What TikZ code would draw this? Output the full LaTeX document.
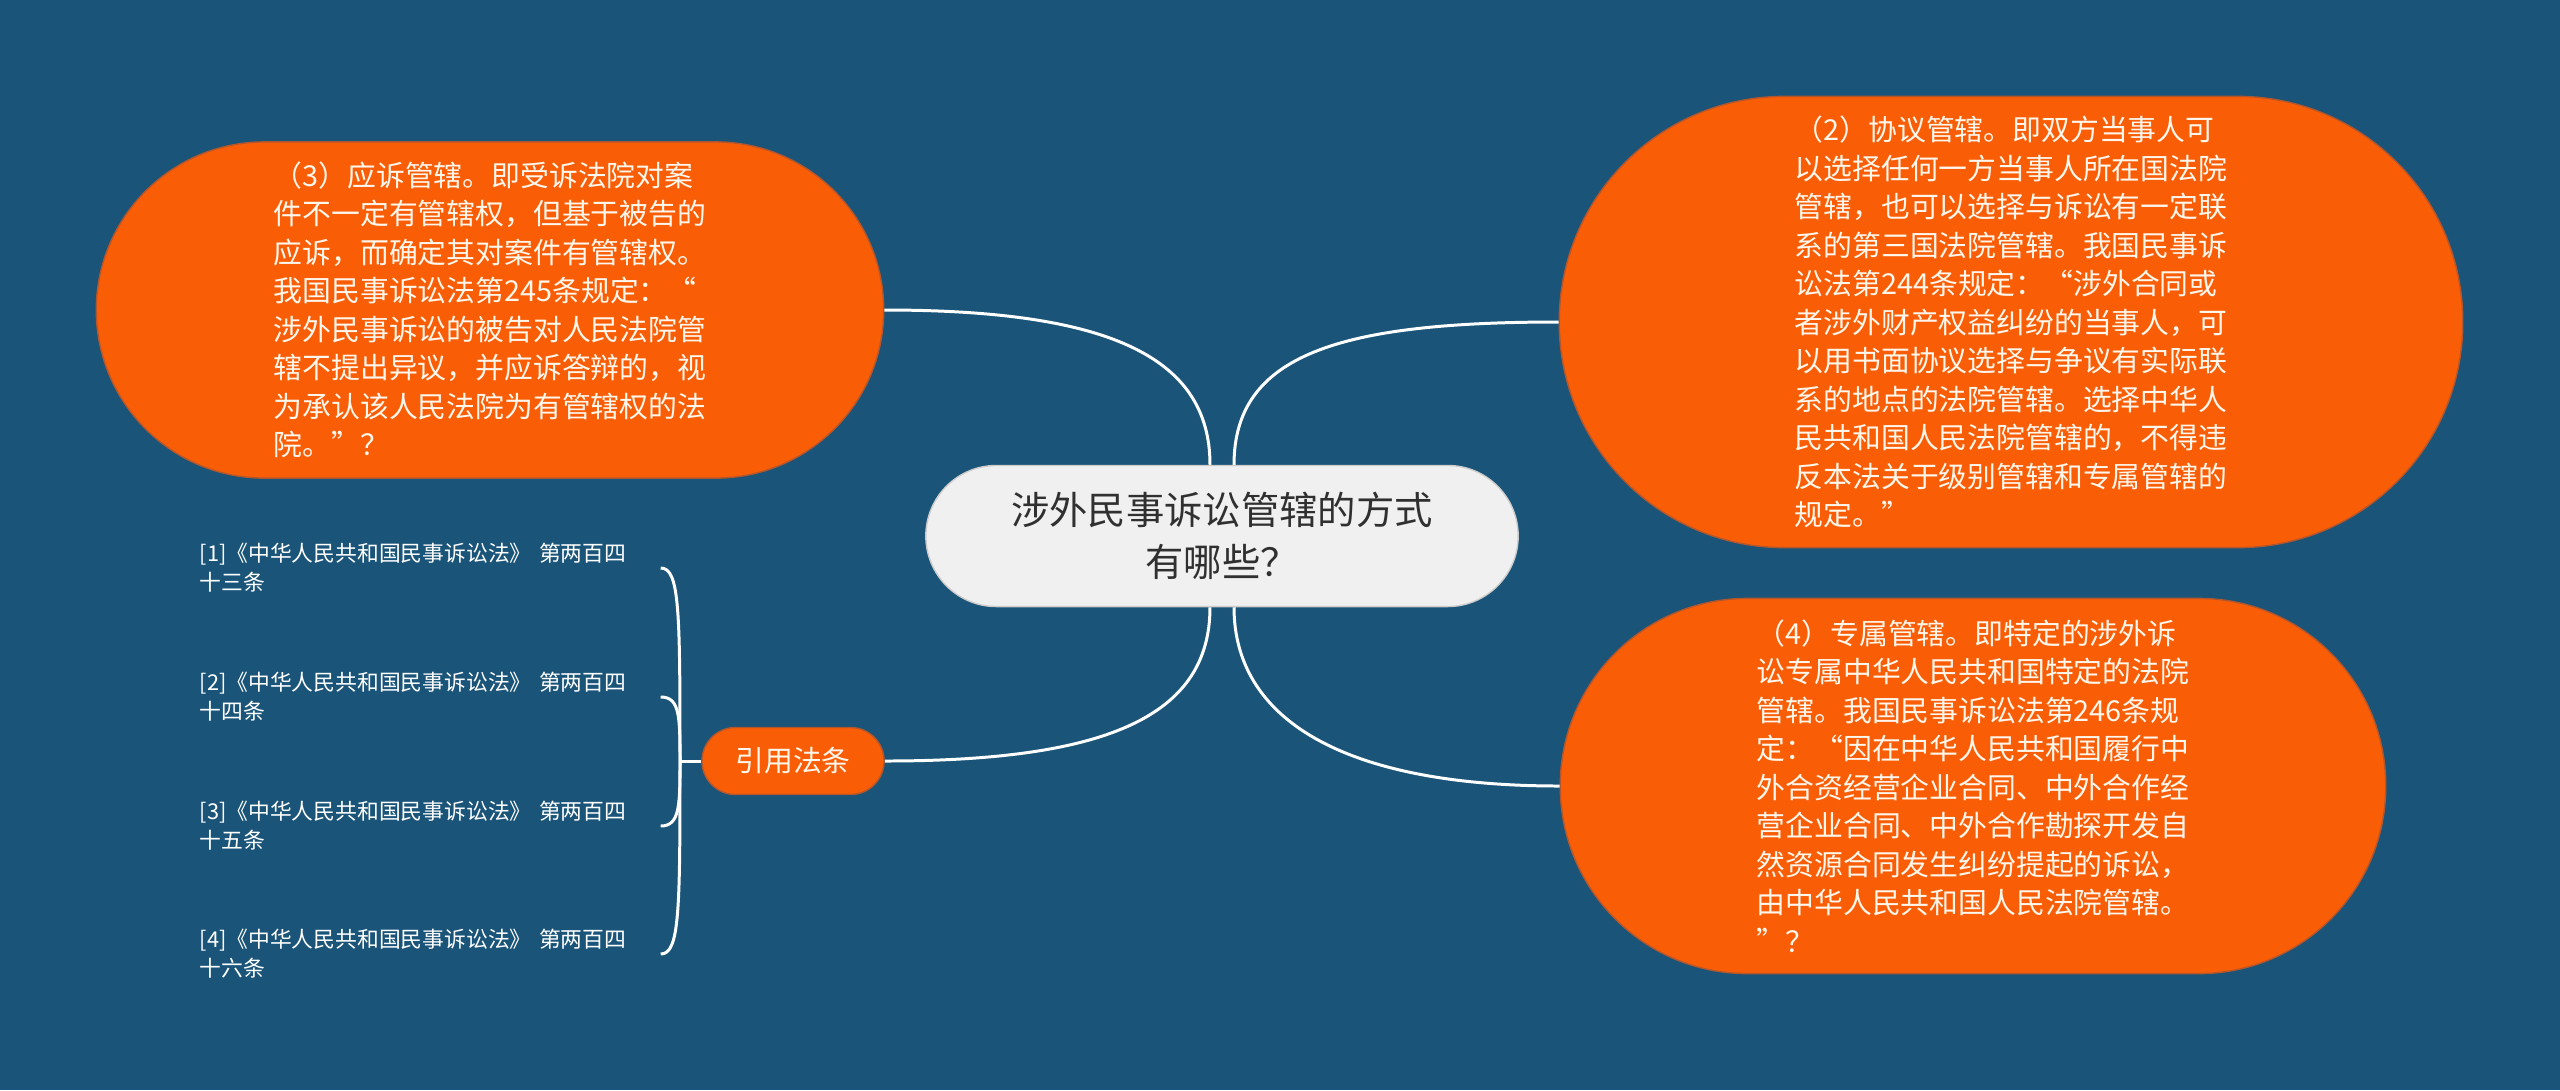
\documentclass[tikz,border=0pt]{standalone}
\usepackage{fontspec}
\setmainfont{Noto Sans CJK SC}
\usepackage{tikz}
\definecolor{shutublue}{RGB}{26,84,120}
\definecolor{shutuorange}{RGB}{249,94,6}
\definecolor{shutuedge}{RGB}{178,86,46}
\definecolor{shutucream}{RGB}{255,246,236}
\definecolor{shutugrey}{RGB}{240,240,240}
\definecolor{shutuink}{RGB}{48,48,48}

\begin{document}
\begin{tikzpicture}[x=0.01cm,y=-0.01cm,
  branch/.style={draw=shutuedge,line width=0.4pt,fill=shutuorange,text=shutucream,align=left,inner sep=0pt,font=\fontsize{8.2pt}{10.95pt}\selectfont},
  link/.style={draw=white,line width=0.85pt},
  ref/.style={text=white,align=left,anchor=west,text width=4.4cm,inner xsep=0.2cm,inner ysep=0pt,font=\fontsize{6.2pt}{8.2pt}\selectfont}]
% Background
\fill[shutublue] (0,0) rectangle (2560,1090);

% Main topic
\node[draw=white!80!black,fill=shutugrey,rounded corners=0.705cm,minimum width=5.92cm,minimum height=1.41cm,text=shutuink,align=center,font=\fontsize{10.9pt}{14.7pt}\selectfont] (root) at (1222,536) {涉外民事诉讼管辖的方式\\有哪些？};

% Four branches
\node[branch,rounded corners=1.68cm,minimum width=7.87cm,minimum height=3.36cm] (accept) at (490,310) {
（3）应诉管辖。即受诉法院对案\\
件不一定有管辖权，但基于被告的\\
应诉，而确定其对案件有管辖权。\\
我国民事诉讼法第245条规定：“\\
涉外民事诉讼的被告对人民法院管\\
辖不提出异议，并应诉答辩的，视\\
为承认该人民法院为有管辖权的法\\
院。”？};

\node[branch,rounded corners=2.25cm,minimum width=9.03cm,minimum height=4.51cm] (agree) at (2011,322) {
（2）协议管辖。即双方当事人可\\
以选择任何一方当事人所在国法院\\
管辖，也可以选择与诉讼有一定联\\
系的第三国法院管辖。我国民事诉\\
讼法第244条规定：“涉外合同或\\
者涉外财产权益纠纷的当事人，可\\
以用书面协议选择与争议有实际联\\
系的地点的法院管辖。选择中华人\\
民共和国人民法院管辖的，不得违\\
反本法关于级别管辖和专属管辖的\\
规定。”};

\node[branch,rounded corners=1.87cm,minimum width=8.25cm,minimum height=3.75cm] (exclusive) at (1973,786) {
（4）专属管辖。即特定的涉外诉\\
讼专属中华人民共和国特定的法院\\
管辖。我国民事诉讼法第246条规\\
定：“因在中华人民共和国履行中\\
外合资经营企业合同、中外合作经\\
营企业合同、中外合作勘探开发自\\
然资源合同发生纠纷提起的诉讼，\\
由中华人民共和国人民法院管辖。\\
”？};

\node[branch,rounded corners=0.335cm,minimum width=1.82cm,minimum height=0.67cm,align=center] (cite) at (793,761) {引用法条};

% Cited articles
\node[ref] (ref1) at (179,568) {[1]《中华人民共和国民事诉讼法》 第两百四\\十三条};
\node[ref] (ref2) at (179,697) {[2]《中华人民共和国民事诉讼法》 第两百四\\十四条};
\node[ref] (ref3) at (179,826) {[3]《中华人民共和国民事诉讼法》 第两百四\\十五条};
\node[ref] (ref4) at (179,954) {[4]《中华人民共和国民事诉讼法》 第两百四\\十六条};
\coordinate (spine) at (680,761);

% Connection lines
\draw[link] ([xshift=-0.12cm]root.north) .. controls +(0,-110) and +(220,0) .. (accept.east);
\draw[link] ([xshift=0.12cm]root.north) .. controls +(0,-110) and +(-220,0) .. (agree.west);
\draw[link] ([xshift=-0.12cm]root.south) .. controls +(0,110) and +(220,0) .. (cite.east);
\draw[link] ([xshift=0.12cm]root.south) .. controls +(0,110) and +(-220,0) .. (exclusive.west);

% Bracket to the articles
\draw[link] (cite.west) -- (spine);
\draw[link] (ref1.east) .. controls +(19,0) and +(0,-150) .. (spine);
\draw[link] (ref2.east) .. controls +(19,0) and +(0,-45) .. (spine);
\draw[link] (ref3.east) .. controls +(19,0) and +(0,45) .. (spine);
\draw[link] (ref4.east) .. controls +(19,0) and +(0,150) .. (spine);
\end{tikzpicture}
\end{document}
